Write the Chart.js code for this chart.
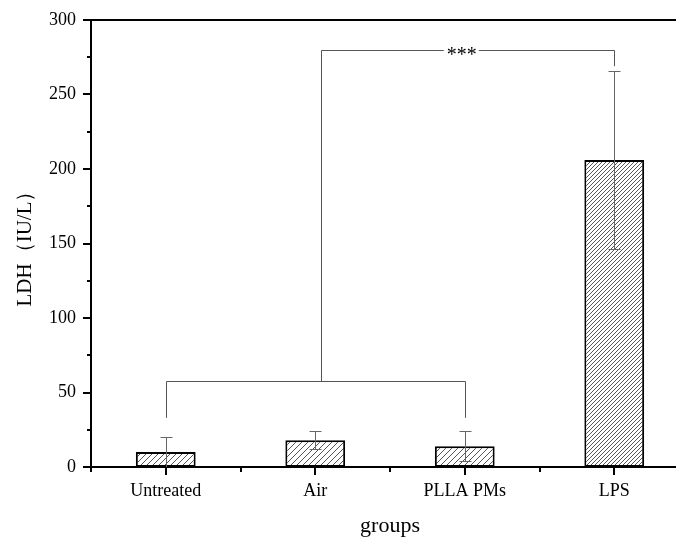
<!DOCTYPE html>
<html>
<head>
<meta charset="utf-8">
<script src="https://cdn.jsdelivr.net/npm/chart.js@4"></script>
<style>
  html, body { margin: 0; padding: 0; background: #fff; overflow: hidden; }
  #wrap { width: 700px; height: 539px; }
</style>
</head>
<body>
<div id="wrap"><canvas id="myChart" width="700" height="539"></canvas></div>
<script>
// data
const groups = ["Untreated", "Air", "PLLA PMs", "LPS"];
const ldh = [10, 18, 14, 206];
const ldhSD = [10, 6, 10, 60];
const yMin = 0;
const yMax = 300;
const yStep = 50;

// significance brackets: [x from, x to, y of bar, y of the drops]
const lowBracket = [0, 2, 58, 33];
const topBracket = [1.04, 3, 280, 269];
const sigText = "***";
const sigAt = 1.98;

const serif = "'Liberation Serif', 'Times New Roman', serif";

function hatch(step) {
  const c = document.createElement("canvas");
  c.width = step;
  c.height = step;
  const g = c.getContext("2d");
  g.fillStyle = "#fff";
  g.fillRect(0, 0, step, step);
  g.strokeStyle = "#555";
  g.lineWidth = 1;
  g.beginPath();
  g.moveTo(0, step);
  g.lineTo(step, 0);
  g.moveTo(-step, step);
  g.lineTo(step, -step);
  g.moveTo(0, 2 * step);
  g.lineTo(2 * step, 0);
  g.stroke();
  return g.createPattern(c, "repeat");
}

const extras = {
  id: "extras",
  afterDatasetsDraw(chart) {
    const ctx = chart.ctx;
    const x = chart.scales.x;
    const y = chart.scales.y;
    const a = chart.chartArea;
    ctx.save();

    // error bars
    ctx.strokeStyle = "#666";
    ctx.lineWidth = 1;
    for (let i = 0; i < ldh.length; i++) {
      const px = Math.round(x.getPixelForValue(i)) + 0.5;
      const top = Math.round(y.getPixelForValue(ldh[i] + ldhSD[i])) + 0.5;
      const bot = Math.round(y.getPixelForValue(Math.max(0, ldh[i] - ldhSD[i]))) + 0.5;
      ctx.beginPath();
      ctx.moveTo(px, top);
      ctx.lineTo(px, bot);
      ctx.moveTo(px - 6, top);
      ctx.lineTo(px + 6, top);
      if (ldh[i] - ldhSD[i] > 0) {
        ctx.moveTo(px - 6, bot);
        ctx.lineTo(px + 6, bot);
      }
      ctx.stroke();
    }

    // brackets
    ctx.strokeStyle = "#555";
    let x1 = Math.round(x.getPixelForValue(lowBracket[0])) + 0.5;
    let x2 = Math.round(x.getPixelForValue(lowBracket[1])) + 0.5;
    let yb = Math.round(y.getPixelForValue(lowBracket[2])) + 0.5;
    let yd = y.getPixelForValue(lowBracket[3]);
    ctx.beginPath();
    ctx.moveTo(x1, yd);
    ctx.lineTo(x1, yb);
    ctx.lineTo(x2, yb);
    ctx.lineTo(x2, yd);
    ctx.stroke();

    const xm = Math.round(x.getPixelForValue(topBracket[0])) + 0.5;
    const xr = Math.round(x.getPixelForValue(topBracket[1])) + 0.5;
    const yt = Math.round(y.getPixelForValue(topBracket[2])) + 0.5;
    const yr = y.getPixelForValue(topBracket[3]);
    ctx.font = "20px " + serif;
    const tw = ctx.measureText(sigText).width;
    const xs = x.getPixelForValue(sigAt);
    ctx.beginPath();
    ctx.moveTo(xm, yb);
    ctx.lineTo(xm, yt);
    ctx.lineTo(xs - tw / 2 - 3, yt);
    ctx.moveTo(xs + tw / 2 + 2, yt);
    ctx.lineTo(xr, yt);
    ctx.lineTo(xr, yr);
    ctx.stroke();
    ctx.fillStyle = "#000";
    ctx.textAlign = "center";
    ctx.textBaseline = "middle";
    ctx.fillText(sigText, xs, yt + 5);

    // ticks and frame
    ctx.strokeStyle = "#000";
    ctx.lineWidth = 2;
    ctx.beginPath();
    ctx.moveTo(a.left - 1, a.top);
    ctx.lineTo(a.right + 20, a.top);
    for (let v = yMin; v <= yMax; v += yStep / 2) {
      const py = Math.round(y.getPixelForValue(v));
      const len = v % yStep === 0 ? 8 : 4;
      ctx.moveTo(a.left - len, py);
      ctx.lineTo(a.left, py);
    }
    for (let i = 0; i < groups.length; i++) {
      const px = Math.round(x.getPixelForValue(i));
      ctx.moveTo(px, a.bottom);
      ctx.lineTo(px, a.bottom + 8);
      const pb = Math.round(x.getPixelForValue(i - 0.5));
      ctx.moveTo(pb, a.bottom);
      ctx.lineTo(pb, a.bottom + 5);
    }
    ctx.stroke();
    ctx.restore();
  }
};

const ctx = document.getElementById("myChart").getContext("2d");
const myChart = new Chart(ctx, {
  type: "bar",
  data: {
    labels: groups,
    datasets: [{
      label: "LDH",
      data: ldh,
      backgroundColor: [hatch(6), hatch(6), hatch(6), hatch(4)],
      borderColor: "#000",
      borderWidth: 2,
      borderSkipped: false,
      barPercentage: 0.4,
      categoryPercentage: 1
    }]
  },
  options: {
    responsive: false,
    animation: false,
    layout: { padding: { left: 0, right: 11, top: 20, bottom: 0 } },
    plugins: {
      legend: { display: false },
      tooltip: { enabled: false }
    },
    scales: {
      x: {
        offset: true,
        grid: { display: false, drawTicks: false },
        border: { display: true, color: "#000", width: 2 },
        ticks: { color: "#000", padding: 13, font: { family: serif, size: 18 }, maxRotation: 0 },
        title: { display: true, text: "groups", color: "#000", font: { family: serif, size: 22 }, padding: { top: 10, bottom: 0 } },
        afterFit(s) { s.height = 72; s.paddingLeft = 0; s.paddingRight = 0; }
      },
      y: {
        min: yMin,
        max: yMax,
        grid: { display: false, drawTicks: false },
        border: { display: true, color: "#000", width: 2 },
        ticks: { stepSize: yStep, color: "#000", padding: 15, font: { family: serif, size: 18 } },
        title: { display: true, text: "LDH（IU/L）", color: "#000", font: { family: serif, size: 21 }, padding: { top: 13, bottom: 4 } },
        afterFit(s) { s.width = 91; s.paddingTop = 0; s.paddingBottom = 0; }
      }
    }
  },
  plugins: [extras]
});
</script>
</body>
</html>
